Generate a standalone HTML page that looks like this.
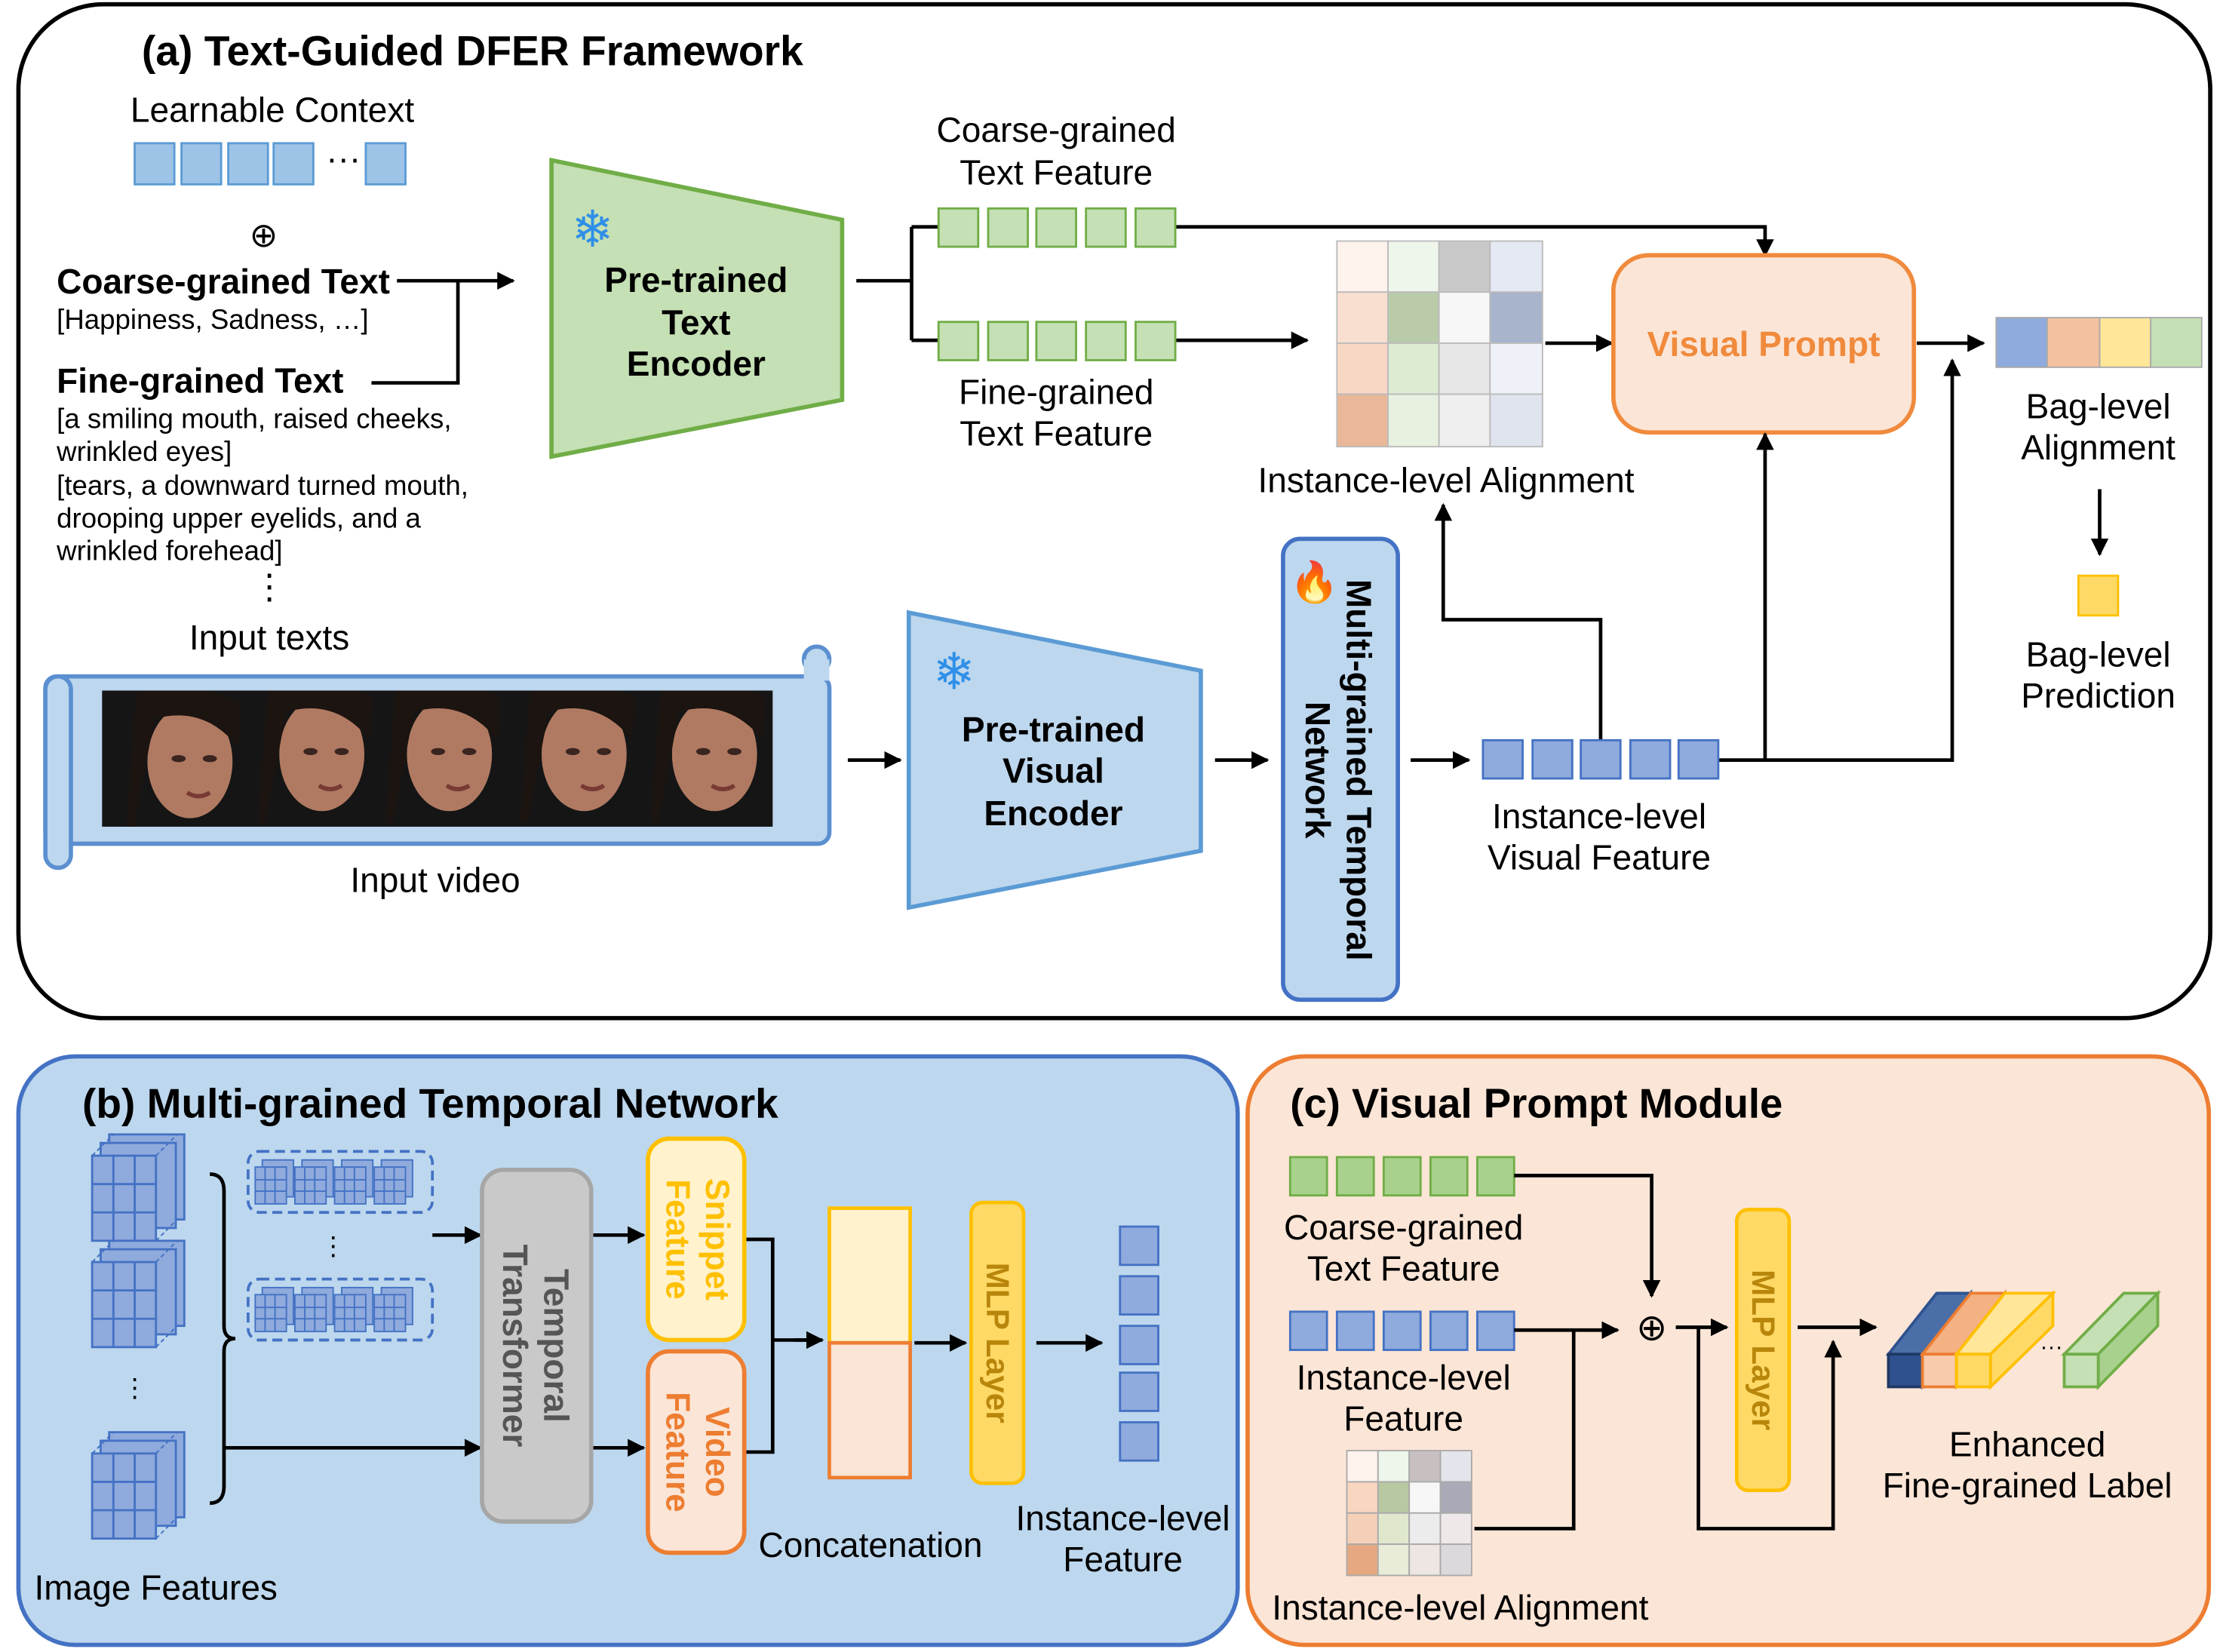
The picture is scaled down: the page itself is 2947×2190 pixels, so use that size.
<!DOCTYPE html>
<html><head><meta charset="utf-8"><style>
html,body{margin:0;padding:0;background:#fff}
svg{display:block}
text{font-family:"Liberation Sans",Arial,sans-serif}
</style></head><body>
<svg width="2947" height="2190" viewBox="0 0 1568 1165" preserveAspectRatio="none" xmlns="http://www.w3.org/2000/svg">
<defs>
<marker id="ar" viewBox="0 0 10 10" refX="9" refY="5" markerWidth="5" markerHeight="5" orient="auto"><path d="M0,0L10,5L0,10z" fill="#000"/></marker>
<g id="cube">
<rect x="12" y="0" width="53" height="60" fill="#8faadc" stroke="#4472c4" stroke-width="1.5"/>
<rect x="6" y="6" width="53" height="60" fill="#8faadc" stroke="#4472c4" stroke-width="1.5"/>
<path d="M0,15 L15,0 M45,15 L60,0 M45,75 L60,60" stroke="#4472c4" stroke-dasharray="3,2" fill="none"/>
<rect x="0" y="15" width="45" height="60" fill="#8faadc" stroke="#4472c4" stroke-width="1.5"/>
<path d="M15,15V75M30,15V75M0,35H45M0,55H45" stroke="#4472c4" stroke-width="1.5"/>
</g>
<g id="sc">
<rect x="5" y="0" width="22" height="26" fill="#8faadc" stroke="#4472c4"/>
<rect x="0" y="5" width="22" height="26" fill="#8faadc" stroke="#4472c4"/>
<path d="M7,5V31M14,5V31M0,14H22M0,22H22" stroke="#4472c4"/>
</g>
<g id="face">
<ellipse cx="0" cy="0" rx="30" ry="40" fill="#b07a62"/>
<path d="M-38,-48 Q0,-62 36,-40 L34,-10 Q10,-40 -25,-30 L-40,48 L-45,48 Z" fill="#1c1410"/>
<ellipse cx="-8" cy="-2" rx="5" ry="2.5" fill="#3a2420"/><ellipse cx="14" cy="-2" rx="5" ry="2.5" fill="#3a2420"/>
<path d="M-2,22 Q6,27 14,22" stroke="#7a3a34" stroke-width="3" fill="none"/>
</g>
</defs>
<g font-size="24.5">
<!-- panel a -->
<rect x="13" y="3" width="1546" height="715" rx="60" fill="#fff" stroke="#000" stroke-width="3"/>
<text x="100" y="46" font-size="29.4" font-weight="bold">(a) Text-Guided DFER Framework</text>
<text x="92" y="86">Learnable Context</text>
<g fill="#9dc3e6" stroke="#5b9bd5" stroke-width="1.5">
<rect x="95" y="101" width="28" height="29"/><rect x="128" y="101" width="28" height="29"/><rect x="161" y="101" width="28" height="29"/><rect x="193" y="101" width="28" height="29"/><rect x="258" y="101" width="28" height="29"/></g>
<text x="230" y="120">···</text>
<text x="186" y="174" text-anchor="middle" font-size="24">⊕</text>
<text x="40" y="207" font-size="24.5" font-weight="bold">Coarse-grained Text</text>
<text x="40" y="232" font-size="19.5">[Happiness, Sadness, …]</text>
<text x="40" y="277" font-size="24.5" font-weight="bold">Fine-grained Text</text>
<g font-size="19.5"><text x="40" y="302">[a smiling mouth, raised cheeks,</text><text x="40" y="325">wrinkled eyes]</text><text x="40" y="349">[tears, a downward turned mouth,</text><text x="40" y="372">drooping upper eyelids, and a</text><text x="40" y="395">wrinkled forehead]</text></g>
<text x="190" y="422" text-anchor="middle">⋮</text>
<text x="190" y="458" text-anchor="middle">Input texts</text>
<g stroke="#000" stroke-width="2.5" fill="none">
<path d="M280,198H362" marker-end="url(#ar)"/>
<path d="M262,270H323V198"/>
</g>
<polygon points="389,113 594,155 594,282 389,322" fill="#c5e0b4" stroke="#70ad47" stroke-width="3"/>
<text x="418" y="174" text-anchor="middle" font-size="36" fill="#2f8fe8">❄</text>
<g font-size="24.5" font-weight="bold" text-anchor="middle"><text x="491" y="206">Pre-trained</text><text x="491" y="236">Text</text><text x="491" y="265">Encoder</text></g>
<g stroke="#000" stroke-width="2.5" fill="none">
<path d="M604,198H643M643,160V240M643,160H662M643,240H662"/>
<path d="M829,160H1245V180" marker-end="url(#ar)"/>
<path d="M829,240H922" marker-end="url(#ar)"/>
<path d="M1090,242H1137" marker-end="url(#ar)"/>
<path d="M1352,242H1399" marker-end="url(#ar)"/>
<path d="M1481,345V391" marker-end="url(#ar)"/>
</g>
<g fill="#c5e0b4" stroke="#70ad47" stroke-width="1.5">
<rect x="662" y="147" width="28" height="27"/><rect x="697" y="147" width="28" height="27"/><rect x="731" y="147" width="28" height="27"/><rect x="766" y="147" width="28" height="27"/><rect x="801" y="147" width="28" height="27"/>
<rect x="662" y="227" width="28" height="27"/><rect x="697" y="227" width="28" height="27"/><rect x="731" y="227" width="28" height="27"/><rect x="766" y="227" width="28" height="27"/><rect x="801" y="227" width="28" height="27"/></g>
<g text-anchor="middle"><text x="745" y="100">Coarse-grained</text><text x="745" y="130">Text Feature</text><text x="745" y="285">Fine-grained</text><text x="745" y="314">Text Feature</text></g>
<g stroke="#bbb" stroke-width="1">
<rect x="943" y="170" width="36" height="36" fill="#fdf2ec"/><rect x="979" y="170" width="36" height="36" fill="#eef5ea"/><rect x="1015" y="170" width="36" height="36" fill="#c8c8c8"/><rect x="1051" y="170" width="37" height="36" fill="#e4e9f3"/>
<rect x="943" y="206" width="36" height="36" fill="#f9dfcf"/><rect x="979" y="206" width="36" height="36" fill="#b9cba8"/><rect x="1015" y="206" width="36" height="36" fill="#f7f7f7"/><rect x="1051" y="206" width="37" height="36" fill="#a8b4cc"/>
<rect x="943" y="242" width="36" height="36" fill="#f8d8c4"/><rect x="979" y="242" width="36" height="36" fill="#dcebd2"/><rect x="1015" y="242" width="36" height="36" fill="#e6e6e6"/><rect x="1051" y="242" width="37" height="36" fill="#eef1f7"/>
<rect x="943" y="278" width="36" height="37" fill="#e8b898"/><rect x="979" y="278" width="36" height="37" fill="#e8f1e0"/><rect x="1015" y="278" width="36" height="37" fill="#efefef"/><rect x="1051" y="278" width="37" height="37" fill="#dfe4ee"/></g>
<text x="1020" y="347" text-anchor="middle">Instance-level Alignment</text>
<rect x="1138" y="180" width="212" height="125" rx="25" fill="#fbe5d6" stroke="#f08a3c" stroke-width="3"/>
<text x="1244" y="251" text-anchor="middle" font-size="24.5" font-weight="bold" fill="#f08a3c">Visual Prompt</text>
<rect x="1408" y="224" width="36" height="35" fill="#8faadc" stroke="#aaa"/><rect x="1444" y="224" width="37" height="35" fill="#f4c1a0" stroke="#aaa"/><rect x="1481" y="224" width="36" height="35" fill="#ffe699" stroke="#aaa"/><rect x="1517" y="224" width="36" height="35" fill="#c5e0b4" stroke="#aaa"/>
<g text-anchor="middle"><text x="1480" y="295">Bag-level</text><text x="1480" y="324">Alignment</text><text x="1480" y="470">Bag-level</text><text x="1480" y="499">Prediction</text></g>
<rect x="1466" y="406" width="28" height="28" fill="#ffd966" stroke="#ffc000" stroke-width="1.5"/>
<!-- video -->
<rect x="32" y="477" width="553" height="118" rx="8" fill="#bdd7ee" stroke="#5b8fd0" stroke-width="3"/>
<rect x="32" y="477" width="18" height="135" rx="9" fill="#bdd7ee" stroke="#5b8fd0" stroke-width="3"/>
<circle cx="576" cy="465" r="9" fill="#bdd7ee" stroke="#5b8fd0" stroke-width="3"/>
<rect x="567" y="465" width="18" height="15" fill="#bdd7ee"/>
<rect x="72" y="487" width="473" height="96" fill="#151515"/>
<svg x="72" y="487" width="473" height="96" overflow="hidden">
<use href="#face" x="62" y="50"/><use href="#face" x="155" y="45"/><use href="#face" x="245" y="45"/><use href="#face" x="340" y="45"/><use href="#face" x="432" y="45"/>
</svg>
<text x="307" y="629" text-anchor="middle">Input video</text>
<g stroke="#000" stroke-width="2.5" fill="none">
<path d="M598,536H635" marker-end="url(#ar)"/>
<path d="M857,536H894" marker-end="url(#ar)"/>
<path d="M995,536H1036" marker-end="url(#ar)"/>
<path d="M1212,536H1377V254" marker-end="url(#ar)"/>
<path d="M1245,536V306" marker-end="url(#ar)"/>
<path d="M1129,522V437H1018V356" marker-end="url(#ar)"/>
</g>
<polygon points="641,432 847,473 847,600 641,640" fill="#bdd7ee" stroke="#5b9bd5" stroke-width="3"/>
<text x="673" y="486" text-anchor="middle" font-size="36" fill="#2f8fe8">❄</text>
<g font-size="24.5" font-weight="bold" text-anchor="middle"><text x="743" y="523">Pre-trained</text><text x="743" y="552">Visual</text><text x="743" y="582">Encoder</text></g>
<rect x="905" y="380" width="81" height="325" rx="12" fill="#bdd7ee" stroke="#4472c4" stroke-width="3"/>
<text x="927" y="420" text-anchor="middle" font-size="28">🔥</text>
<g font-size="24.5" font-weight="bold" text-anchor="middle"><text transform="translate(950,543) rotate(90)">Multi-grained Temporal</text><text transform="translate(921,543) rotate(90)">Network</text></g>
<g fill="#8faadc" stroke="#4472c4" stroke-width="1.5">
<rect x="1046" y="522" width="28" height="27"/><rect x="1081" y="522" width="28" height="27"/><rect x="1115" y="522" width="28" height="27"/><rect x="1150" y="522" width="28" height="27"/><rect x="1184" y="522" width="28" height="27"/></g>
<g text-anchor="middle"><text x="1128" y="584">Instance-level</text><text x="1128" y="613">Visual Feature</text></g>

<!-- panel b -->
<rect x="13" y="745" width="860" height="415" rx="40" fill="#bdd7ee" stroke="#4472c4" stroke-width="3"/>
<text x="58" y="788" font-size="29.3" font-weight="bold">(b) Multi-grained Temporal Network</text>
<use href="#cube" x="65" y="800"/><use href="#cube" x="65" y="875"/><use href="#cube" x="65" y="1010"/>
<text x="95" y="985" text-anchor="middle" font-size="18">⋮</text>
<path d="M148,828 Q158,828 158,840 V935 Q158,944 166,944 Q158,944 158,953 V1048 Q158,1060 148,1060" fill="none" stroke="#000" stroke-width="2.5"/>
<rect x="175" y="812" width="130" height="43" rx="8" fill="none" stroke="#4472c4" stroke-width="2" stroke-dasharray="7,4"/>
<rect x="175" y="902" width="130" height="43" rx="8" fill="none" stroke="#4472c4" stroke-width="2" stroke-dasharray="7,4"/>
<use href="#sc" x="180" y="818"/><use href="#sc" x="208" y="818"/><use href="#sc" x="236" y="818"/><use href="#sc" x="264" y="818"/>
<use href="#sc" x="180" y="908"/><use href="#sc" x="208" y="908"/><use href="#sc" x="236" y="908"/><use href="#sc" x="264" y="908"/>
<text x="235" y="885" text-anchor="middle" font-size="18">⋮</text>
<g stroke="#000" stroke-width="2.5" fill="none">
<path d="M305,871H339" marker-end="url(#ar)"/>
<path d="M158,1021H339" marker-end="url(#ar)"/>
<path d="M417,871H454" marker-end="url(#ar)"/>
<path d="M417,1021H454" marker-end="url(#ar)"/>
<path d="M525,874H545V1024H525M545,945H580" />
<path d="M560,945H580" marker-end="url(#ar)"/>
<path d="M645,947H681" marker-end="url(#ar)"/>
<path d="M731,947H777" marker-end="url(#ar)"/>
</g>
<rect x="340" y="825" width="77" height="248" rx="15" fill="#c9c9c9" stroke="#a6a6a6" stroke-width="3"/>
<g font-size="24.5" font-weight="bold" text-anchor="middle" fill="#555"><text transform="translate(384,949) rotate(90)">Temporal</text><text transform="translate(355,949) rotate(90)">Transformer</text></g>
<rect x="457" y="803" width="68" height="142" rx="15" fill="#fff2cc" stroke="#ffc000" stroke-width="3"/>
<g font-size="23.5" font-weight="bold" text-anchor="middle" fill="#ffc000"><text transform="translate(498,874) rotate(90)">Snippet</text><text transform="translate(470,874) rotate(90)">Feature</text></g>
<rect x="457" y="953" width="68" height="142" rx="15" fill="#fbe5d6" stroke="#ed7d31" stroke-width="3"/>
<g font-size="23.5" font-weight="bold" text-anchor="middle" fill="#ed7d31"><text transform="translate(498,1024) rotate(90)">Video</text><text transform="translate(470,1024) rotate(90)">Feature</text></g>
<rect x="585" y="852" width="57" height="95" fill="#fff2cc" stroke="#ffc000" stroke-width="2.5"/>
<rect x="585" y="947" width="57" height="95" fill="#fbe5d6" stroke="#ed7d31" stroke-width="2.5"/>
<text x="614" y="1098" text-anchor="middle">Concatenation</text>
<rect x="685" y="848" width="37" height="198" rx="8" fill="#ffd966" stroke="#ffc000" stroke-width="2.5"/>
<text transform="translate(696,947) rotate(90)" font-size="22.5" font-weight="bold" text-anchor="middle" fill="#b8860b">MLP Layer</text>
<g fill="#8faadc" stroke="#4472c4" stroke-width="1.5">
<rect x="790" y="865" width="27" height="27"/><rect x="790" y="900" width="27" height="27"/><rect x="790" y="935" width="27" height="27"/><rect x="790" y="968" width="27" height="27"/><rect x="790" y="1003" width="27" height="27"/></g>
<g text-anchor="middle"><text x="792" y="1079">Instance-level</text><text x="792" y="1108">Feature</text></g>
<text x="110" y="1128" text-anchor="middle">Image Features</text>

<!-- panel c -->
<rect x="880" y="745" width="678" height="415" rx="40" fill="#fbe5d6" stroke="#ed7d31" stroke-width="3"/>
<text x="910" y="788" font-size="29" font-weight="bold">(c) Visual Prompt Module</text>
<g fill="#a9d18e" stroke="#70ad47" stroke-width="1.5">
<rect x="910" y="816" width="26" height="27"/><rect x="943" y="816" width="26" height="27"/><rect x="976" y="816" width="26" height="27"/><rect x="1009" y="816" width="26" height="27"/><rect x="1042" y="816" width="26" height="27"/></g>
<g fill="#8faadc" stroke="#4472c4" stroke-width="1.5">
<rect x="910" y="925" width="26" height="27"/><rect x="943" y="925" width="26" height="27"/><rect x="976" y="925" width="26" height="27"/><rect x="1009" y="925" width="26" height="27"/><rect x="1042" y="925" width="26" height="27"/></g>
<g text-anchor="middle"><text x="990" y="874">Coarse-grained</text><text x="990" y="903">Text Feature</text><text x="990" y="980">Instance-level</text><text x="990" y="1009">Feature</text><text x="1030" y="1142">Instance-level Alignment</text><text x="1430" y="1027">Enhanced</text><text x="1430" y="1056">Fine-grained Label</text></g>
<g stroke="#aaa" stroke-width="1">
<rect x="950" y="1023" width="22" height="22" fill="#fdf2ec"/><rect x="972" y="1023" width="22" height="22" fill="#eef5ea"/><rect x="994" y="1023" width="22" height="22" fill="#c8c0c0"/><rect x="1016" y="1023" width="22" height="22" fill="#e4e4ec"/>
<rect x="950" y="1045" width="22" height="22" fill="#f8d6c0"/><rect x="972" y="1045" width="22" height="22" fill="#b8c8a0"/><rect x="994" y="1045" width="22" height="22" fill="#f7f7f7"/><rect x="1016" y="1045" width="22" height="22" fill="#a8aab8"/>
<rect x="950" y="1067" width="22" height="22" fill="#f4d0b8"/><rect x="972" y="1067" width="22" height="22" fill="#dfe8cc"/><rect x="994" y="1067" width="22" height="22" fill="#ececec"/><rect x="1016" y="1067" width="22" height="22" fill="#eee8e8"/>
<rect x="950" y="1089" width="22" height="22" fill="#e6a880"/><rect x="972" y="1089" width="22" height="22" fill="#e8ecd8"/><rect x="994" y="1089" width="22" height="22" fill="#ede6e2"/><rect x="1016" y="1089" width="22" height="22" fill="#ddd8dc"/></g>
<g stroke="#000" stroke-width="2.5" fill="none">
<path d="M1068,829H1165V914" marker-end="url(#ar)"/>
<path d="M1068,938H1141" marker-end="url(#ar)"/>
<path d="M1040,1078H1110V938"/>
<path d="M1182,936H1218" marker-end="url(#ar)"/>
<path d="M1198,936V1078H1293V946" marker-end="url(#ar)"/>
<path d="M1268,936H1323" marker-end="url(#ar)"/>
</g>
<text x="1165" y="945" text-anchor="middle" font-size="26">⊕</text>
<rect x="1225" y="853" width="37" height="198" rx="8" fill="#ffd966" stroke="#ffc000" stroke-width="2.5"/>
<text transform="translate(1236,952) rotate(90)" font-size="22.5" font-weight="bold" text-anchor="middle" fill="#b8860b">MLP Layer</text>
<g stroke-width="2">
<polygon points="1332,955 1356,955 1390,912 1366,912" fill="#4a6fa8" stroke="#2f528f"/><polygon points="1356,955 1390,912 1390,955 1356,978" fill="#3c5f96" stroke="#2f528f"/><rect x="1332" y="955" width="24" height="23" fill="#2f528f" stroke="#1f3864"/>
<polygon points="1356,955 1380,955 1414,912 1390,912" fill="#f4b183" stroke="#ed7d31"/><polygon points="1380,955 1414,912 1414,955 1380,978" fill="#f4b183" stroke="#ed7d31"/><rect x="1356" y="955" width="24" height="23" fill="#f8cbad" stroke="#ed7d31"/>
<polygon points="1380,955 1404,955 1448,912 1414,912" fill="#ffe699" stroke="#ffc000"/><polygon points="1404,955 1448,912 1448,935 1404,978" fill="#ffd966" stroke="#ffc000"/><rect x="1380" y="955" width="24" height="23" fill="#ffd966" stroke="#ffc000"/>
<polygon points="1456,955 1480,955 1522,912 1498,912" fill="#c5e0b4" stroke="#70ad47"/><polygon points="1480,955 1522,912 1522,935 1480,978" fill="#a9d18e" stroke="#70ad47"/><rect x="1456" y="955" width="24" height="23" fill="#c5e0b4" stroke="#70ad47"/>
</g>
<text x="1447" y="955" text-anchor="middle" font-size="16">···</text>
</g>
</svg>
</body></html>
